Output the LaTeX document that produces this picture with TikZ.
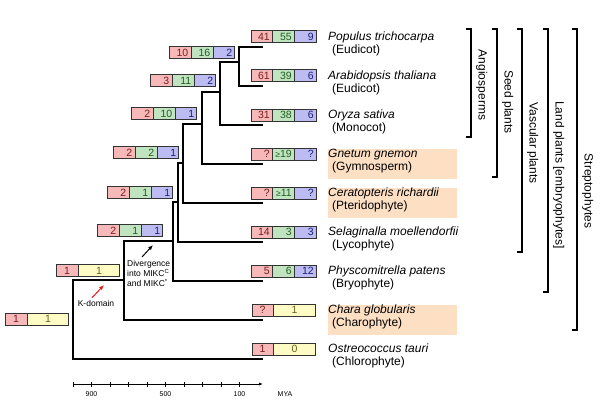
\documentclass[tikz,border=0pt]{standalone}
\usepackage{fontspec}
\setmainfont{Liberation Sans}
\usetikzlibrary{arrows.meta,positioning,shapes.multipart,calc}
\definecolor{redfill}{HTML}{F6B8B8}
\definecolor{greenfill}{HTML}{BFE4BF}
\definecolor{bluefill}{HTML}{BCBCF2}
\definecolor{yellowfill}{HTML}{FFFBC4}
\definecolor{redtxt}{HTML}{7A1E1E}
\definecolor{greentxt}{HTML}{235E23}
\definecolor{bluetxt}{HTML}{1E1E78}
\definecolor{yellowtxt}{HTML}{6A6420}
\definecolor{peach}{HTML}{FDDFC4}
\definecolor{boxline}{HTML}{333333}
\definecolor{kred}{HTML}{E8141B}
\newcommand{\cellnum}[4]{\makebox[#1][#2]{\rule[-1pt]{0pt}{9.5pt}\color{#3}#4}}
\newcommand{\trio}[3]{\cellnum{16.5pt}{r}{redtxt}{#1}\nodepart{two}%
  \cellnum{16.5pt}{r}{greentxt}{#2}\nodepart{three}\cellnum{16.5pt}{r}{bluetxt}{#3}}
\newcommand{\duo}[2]{\cellnum{16.5pt}{c}{redtxt}{#1}\nodepart{two}%
  \cellnum{36.5pt}{c}{yellowtxt}{#2}}
\newcommand{\gsm}{{\fontsize{8.5}{10}\selectfont ≥}}
\tikzset{
  countbox/.style={rectangle split,rectangle split horizontal,draw=boxline,line width=1pt,
                   inner xsep=2.25pt,inner ysep=1.25pt,font=\fontsize{10.5}{12}\selectfont},
  tribox/.style  ={countbox,rectangle split parts=3,
                   rectangle split part fill={redfill,greenfill,bluefill}},
  duobox/.style  ={countbox,rectangle split parts=2,
                   rectangle split part fill={redfill,yellowfill}},
  branch/.style  ={line width=1.3pt,draw=black},
  taxon/.style   ={anchor=west,align=left,inner sep=0pt,font=\fontsize{12}{13.5}\selectfont},
  hl/.style      ={fill=peach},
  clade/.style   ={line width=1.2pt,draw=black},
  cladelbl/.style={rotate=-90,anchor=south,inner sep=0pt,font=\fontsize{12}{13.5}\selectfont},
  note/.style    ={align=left,inner sep=0pt,font=\fontsize{8.5}{10}\selectfont},
  karrow/.style  ={-{Latex[length=5pt,width=4pt]},line width=1pt,draw=kred},
  darrow/.style  ={-{Latex[length=5pt,width=4pt]},line width=1pt,draw=black},
  axis/.style    ={-{Latex[length=4pt,width=3pt]},line width=0.8pt},
  scaletick/.style={line width=0.7pt},
  scalelbl/.style={inner sep=0pt,font=\fontsize{7}{8}\selectfont}
}
\begin{document}
\begin{tikzpicture}[x=1pt,y=-1pt]
  \useasboundingbox (0,0) rectangle (600,404);
  \foreach \nm [count=\i from 0] in {populus,arabid,oryza,gnetum,cerat,selag,physco,chara,ostreo}
    \coordinate (\nm) at (263,47+39*\i);
  \coordinate (a1) at (239,62);
  \coordinate (a2) at (220,92);
  \coordinate (a3) at (202,124);
  \coordinate (a4) at (183,163);
  \coordinate (a5) at (178,202);
  \coordinate (a6) at (173,241);
  \coordinate (a7) at (124,280);
  \coordinate (a8) at (73,319);
  \foreach \nm in {gnetum,cerat,chara}
    \fill[hl] ($(\nm)+(65,-15)$) rectangle ++(129,30);

  \draw[branch] (populus) -| (a1) |- (arabid);
  \draw[branch] (a1) -| (a2) |- (oryza);
  \draw[branch] (a2) -| (a3) |- (gnetum);
  \draw[branch] (a3) -| (a4) |- (cerat);
  \draw[branch] (a4) -| (a5) |- (selag);
  \draw[branch] (a5) -| (a6) |- (physco);
  \draw[branch] (a6) -| (a7) |- (chara);
  \draw[branch] (a7) -| (a8) |- (ostreo);

  \node[tribox,above=3.5pt of populus,xshift=20.5pt] (populus-n) {\trio{41}{55}{9}};
  \node[tribox,above=3.5pt of arabid,xshift=20.5pt] (arabid-n) {\trio{61}{39}{6}};
  \node[tribox,above=3.5pt of oryza,xshift=20.5pt] (oryza-n) {\trio{31}{38}{6}};
  \node[tribox,above=3.5pt of gnetum,xshift=20.5pt] (gnetum-n) {\trio{?}{\gsm19}{?}};
  \node[tribox,above=3.5pt of cerat,xshift=20.5pt] (cerat-n) {\trio{?}{\gsm11}{?}};
  \node[tribox,above=3.5pt of selag,xshift=20.5pt] (selag-n) {\trio{14}{3}{3}};
  \node[tribox,above=3.5pt of physco,xshift=20.5pt] (physco-n) {\trio{5}{6}{12}};
  \node[duobox,above=3.5pt of chara,xshift=20.5pt] (chara-n) {\duo{?}{1}};
  \node[duobox,above=3.5pt of ostreo,xshift=20.5pt] (ostreo-n) {\duo{1}{0}};

  \node[tribox,above left=3pt and 4pt of a1] (a1-n) {\trio{10}{16}{2}};
  \node[tribox,above left=5pt and 4pt of a2] (a2-n) {\trio{3}{11}{2}};
  \node[tribox,above left=4pt and 5pt of a3] (a3-n) {\trio{2}{10}{1}};
  \node[tribox,above left=4pt and 4pt of a4] (a4-n) {\trio{2}{2}{1}};
  \node[tribox,above left=3pt and 5pt of a5] (a5-n) {\trio{2}{1}{1}};
  \node[tribox,above left=4pt and 10pt of a6] (a6-n) {\trio{2}{1}{1}};
  \node[duobox,above left=3pt and 4pt of a7] (a7-n) {\duo{1}{1}};
  \node[duobox,left=4pt of a8] (a8-n) {\duo{1}{1}};

  \node[taxon,right=65pt of populus,yshift=3pt] (populus-t) {\textit{Populus trichocarpa}\\\hspace*{4pt}(Eudicot)};
  \node[taxon,right=65pt of arabid,yshift=3pt] (arabid-t) {\textit{Arabidopsis thaliana}\\\hspace*{4pt}(Eudicot)};
  \node[taxon,right=65pt of oryza,yshift=3pt] (oryza-t) {\textit{Oryza sativa}\\\hspace*{4pt}(Monocot)};
  \node[taxon,right=65pt of gnetum,yshift=3pt] (gnetum-t) {\textit{Gnetum gnemon}\\\hspace*{4pt}(Gymnosperm)};
  \node[taxon,right=65pt of cerat,yshift=3pt] (cerat-t) {\textit{Ceratopteris richardii}\\\hspace*{4pt}(Pteridophyte)};
  \node[taxon,right=65pt of selag,yshift=3pt] (selag-t) {\textit{Selaginalla moellendorfii}\\\hspace*{4pt}(Lycophyte)};
  \node[taxon,right=65pt of physco,yshift=3pt] (physco-t) {\textit{Physcomitrella patens}\\\hspace*{4pt}(Bryophyte)};
  \node[taxon,right=65pt of chara,yshift=3pt] (chara-t) {\textit{Chara globularis}\\\hspace*{4pt}(Charophyte)};
  \node[taxon,right=65pt of ostreo,yshift=3pt] (ostreo-t) {\textit{Ostreococcus tauri}\\\hspace*{4pt}(Chlorophyte)};

  \foreach \nm/\x/\yb/\ym/\lab in {angio/471/137/85/Angiosperms, seed/497/177/102/Seed plants,
      vasc/522/252/143/Vascular plants, land/548/292/175/Land plants [embryophytes],
      strepto/577/330/191/Streptophytes} {
    \coordinate (\nm-top) at (\x,29);
    \coordinate (\nm-bot) at (\x,\yb);
    \draw[clade] ($(\nm-top)+(-5,0)$) -- (\nm-top) -- (\nm-bot) -- ++(-5,0);
    \node[cladelbl] (\nm-lbl) at (\x+5,\ym) {\lab};
  }

  \node[note] (kdom) at (96,303) {K-domain};
  \coordinate (ktip) at (104,285);
  \draw[karrow] ($(kdom.north)+(-4,-2)$) -- (ktip);
  \node[note,anchor=north west] (diverg) at (127,260)
    {Divergence\\into MIKC\textsuperscript{C}\\and MIKC\textsuperscript{*}};
  \coordinate (dtip) at (153,245);
  \draw[darrow] ($(diverg.north west)+(15,-3)$) -- (dtip);

  \coordinate (ax0) at (73,384);
  \coordinate (ax1) at (263,384);
  \draw[axis] (ax0) -- (ax1);
  \foreach \i in {0,...,9}
    \draw[scaletick] ($(ax0)+(18.5*\i,-2.5)$) -- ++(0,5);
  \node[scalelbl] (t900) at ($(ax0)+(18.5,10)$) {900};
  \node[scalelbl] (t500) at ($(ax0)+(92.5,10)$) {500};
  \node[scalelbl] (t100) at ($(ax0)+(166.5,10)$) {100};
  \node[scalelbl] (mya) at (285,394) {MYA};
\end{tikzpicture}
\end{document}
